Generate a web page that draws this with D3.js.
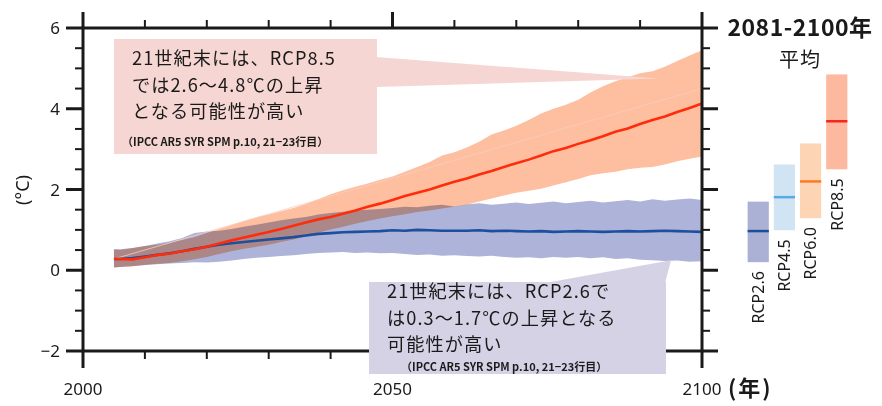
<!DOCTYPE html>
<html>
<head>
<meta charset="utf-8">
<script src="https://cdn.jsdelivr.net/npm/d3@7/dist/d3.min.js"></script>
<style>
  html, body { margin: 0; padding: 0; background: #fff; }
  svg { display: block; }
</style>
</head>
<body>
<svg id="chart" width="882" height="406"></svg>
<script>
// Projected global mean surface temperature change (°C), 2005-2100
const years = [2005, ...d3.range(2006, 2101, 2)];

// RCP8.5 ensemble mean and likely range
const rcp85Mean = [0.28, 0.28, 0.27, 0.32, 0.38, 0.41, 0.47, 0.52, 0.58, 0.66,
  0.74, 0.81, 0.88, 0.95, 1.02, 1.10, 1.18, 1.26, 1.32, 1.40,
  1.48, 1.57, 1.65, 1.74, 1.84, 1.92, 2.00, 2.10, 2.19, 2.27,
  2.37, 2.46, 2.56, 2.65, 2.74, 2.84, 2.95, 3.03, 3.13, 3.22,
  3.32, 3.43, 3.51, 3.62, 3.72, 3.81, 3.92, 4.02, 4.13];
const rcp85High = [0.52, 0.50, 0.55, 0.60, 0.63, 0.68, 0.75, 0.82, 0.92, 1.02,
  1.12, 1.22, 1.31, 1.38, 1.46, 1.54, 1.64, 1.76, 1.88, 1.98,
  2.07, 2.15, 2.24, 2.32, 2.44, 2.56, 2.68, 2.84, 2.92, 3.04,
  3.18, 3.36, 3.46, 3.58, 3.72, 3.88, 4.00, 4.10, 4.22, 4.40,
  4.56, 4.68, 4.78, 4.88, 4.93, 5.04, 5.18, 5.32, 5.45];
const rcp85Low = [0.07, 0.08, 0.10, 0.13, 0.16, 0.18, 0.22, 0.27, 0.33, 0.40,
  0.47, 0.53, 0.58, 0.63, 0.70, 0.76, 0.84, 0.93, 1.01, 1.08,
  1.15, 1.22, 1.28, 1.34, 1.39, 1.44, 1.48, 1.53, 1.57, 1.62,
  1.70, 1.78, 1.85, 1.92, 1.97, 2.02, 2.10, 2.18, 2.26, 2.35,
  2.40, 2.44, 2.50, 2.54, 2.56, 2.62, 2.70, 2.76, 2.82];

// RCP2.6 ensemble mean and likely range
const rcp26Mean = [0.28, 0.28, 0.30, 0.34, 0.38, 0.42, 0.47, 0.53, 0.58, 0.63,
  0.67, 0.70, 0.73, 0.76, 0.79, 0.82, 0.86, 0.90, 0.92, 0.94,
  0.95, 0.96, 0.97, 0.99, 0.98, 1.00, 0.99, 0.98, 0.98, 0.98,
  0.99, 0.97, 0.98, 0.97, 0.96, 0.97, 0.95, 0.96, 0.97, 0.96,
  0.95, 0.96, 0.97, 0.96, 0.97, 0.98, 0.97, 0.96, 0.95];
const rcp26High = [0.52, 0.52, 0.55, 0.60, 0.66, 0.72, 0.80, 0.92, 0.96, 0.98,
  1.02, 1.08, 1.13, 1.18, 1.24, 1.28, 1.32, 1.38, 1.42, 1.45,
  1.48, 1.50, 1.52, 1.54, 1.57, 1.56, 1.60, 1.62, 1.58, 1.63,
  1.66, 1.62, 1.65, 1.68, 1.64, 1.67, 1.70, 1.66, 1.69, 1.72,
  1.68, 1.71, 1.74, 1.70, 1.76, 1.72, 1.75, 1.78, 1.74];
const rcp26Low = [0.07, 0.08, 0.10, 0.13, 0.15, 0.17, 0.18, 0.20, 0.19, 0.21,
  0.24, 0.28, 0.31, 0.33, 0.35, 0.37, 0.40, 0.43, 0.44, 0.45,
  0.43, 0.44, 0.42, 0.43, 0.40, 0.38, 0.39, 0.36, 0.37, 0.35,
  0.34, 0.36, 0.33, 0.31, 0.32, 0.30, 0.33, 0.31, 0.33, 0.30,
  0.32, 0.28, 0.30, 0.26, 0.25, 0.23, 0.24, 0.21, 0.22];

// Faint reference trend through the RCP8.5 range
const guide85 = [[2005, 0.28], [2100, 4.5]];

// 2081-2100 averages per scenario
const scenarios = ["RCP2.6", "RCP4.5", "RCP6.0", "RCP8.5"];
const avgMean = [0.97, 1.81, 2.20, 3.69];
const avgLow  = [0.20, 0.99, 1.29, 2.50];
const avgHigh = [1.70, 2.62, 3.14, 4.85];
const avgFill = ["#abb1d5", "#d0e4f4", "#fed5b4", "#fdb99f"];
const avgLine = ["#1b4f9c", "#55abde", "#fb7b25", "#f7261b"];

// Axis ticks
const yMajor = [-2, 0, 2, 4, 6];
const yMinor = d3.range(-2, 6.01, 0.5).filter(v => v % 2 !== 0);
const xMajor = [2000, 2050, 2100];
const xMinor = d3.range(2010, 2100, 10).filter(v => v !== 2050);

// Callout texts
const note85 = ["21世紀末には、RCP8.5", "では2.6～4.8℃の上昇", "となる可能性が高い"];
const note26 = ["21世紀末には、RCP2.6で", "は0.3～1.7℃の上昇となる", "可能性が高い"];
const source = "（IPCC AR5 SYR SPM p.10, 21−23行目）";
const tip85 = [2093, 4.75];
const tip26 = [2095, 0.25];

const svg = d3.select("#chart");
const JP = "'Noto Sans CJK JP', 'Noto Sans', sans-serif";
const LAT = "'Noto Sans', 'Noto Sans CJK JP', sans-serif";
const ink = "#1a1a1a";

const x = d3.scaleLinear().domain([2000, 2100]).range([83, 702]);
const y = d3.scaleLinear().domain([-2, 6]).range([351, 28]);

const rows = years.map((yr, i) => ({
  yr, m85: rcp85Mean[i], h85: rcp85High[i], l85: rcp85Low[i],
  m26: rcp26Mean[i], h26: rcp26High[i], l26: rcp26Low[i]
}));

// Ranges
const plot = svg.append("g");
plot.append("path").datum(rows)
  .attr("fill", "#fdbf9f")
  .attr("d", d3.area().x(d => x(d.yr)).y0(d => y(d.l85)).y1(d => y(d.h85)));
plot.append("path").datum(rows)
  .attr("fill", "#aeb4d9")
  .style("mix-blend-mode", "multiply")
  .attr("d", d3.area().x(d => x(d.yr)).y0(d => y(d.l26)).y1(d => y(d.h26)));
plot.append("path").datum(guide85)
  .attr("fill", "none").attr("stroke", "#f9cdbf").attr("stroke-opacity", 0.8)
  .attr("stroke-width", 1)
  .attr("d", d3.line().x(d => x(d[0])).y(d => y(d[1])));

// Means
plot.append("path").datum(rows)
  .attr("fill", "none").attr("stroke", "#1d4f9e").attr("stroke-width", 2.6)
  .attr("stroke-linejoin", "round")
  .attr("d", d3.line().x(d => x(d.yr)).y(d => y(d.m26)));
plot.append("path").datum(rows)
  .attr("fill", "none").attr("stroke", "#ff2c0c").attr("stroke-width", 2.6)
  .attr("stroke-linejoin", "round")
  .attr("d", d3.line().x(d => x(d.yr)).y(d => y(d.m85)));

// Frame and ticks
const frame = svg.append("g").attr("stroke", ink).attr("stroke-linecap", "butt");
frame.append("rect")
  .attr("x", x(2000)).attr("y", y(6))
  .attr("width", x(2100) - x(2000)).attr("height", y(-2) - y(6))
  .attr("fill", "none").attr("stroke-width", 3);
yMajor.forEach(v => {
  frame.append("line").attr("x1", x(2000) - 17).attr("x2", x(2000)).attr("y1", y(v)).attr("y2", y(v)).attr("stroke-width", 3);
  frame.append("line").attr("x1", x(2100)).attr("x2", x(2100) + 16).attr("y1", y(v)).attr("y2", y(v)).attr("stroke-width", 3);
});
yMinor.forEach(v => {
  frame.append("line").attr("x1", x(2000) - 8).attr("x2", x(2000)).attr("y1", y(v)).attr("y2", y(v)).attr("stroke-width", 2);
  frame.append("line").attr("x1", x(2100)).attr("x2", x(2100) + 8).attr("y1", y(v)).attr("y2", y(v)).attr("stroke-width", 2);
});
xMajor.forEach(v => {
  frame.append("line").attr("x1", x(v)).attr("x2", x(v)).attr("y1", y(-2)).attr("y2", y(-2) + 17).attr("stroke-width", 3);
  frame.append("line").attr("x1", x(v)).attr("x2", x(v)).attr("y1", y(6) - 16).attr("y2", y(6)).attr("stroke-width", 3);
});
xMinor.forEach(v => {
  frame.append("line").attr("x1", x(v)).attr("x2", x(v)).attr("y1", y(-2)).attr("y2", y(-2) + 8).attr("stroke-width", 2);
  frame.append("line").attr("x1", x(v)).attr("x2", x(v)).attr("y1", y(6) - 8).attr("y2", y(6)).attr("stroke-width", 2);
});

// Tick labels
svg.append("g").selectAll("text").data(yMajor).join("text")
  .attr("x", 60).attr("y", d => y(d)).attr("dy", "0.36em")
  .attr("text-anchor", "end")
  .attr("font-family", LAT).attr("font-size", 17).attr("fill", ink)
  .text(d => d < 0 ? "−" + Math.abs(d) : d);
svg.append("g").selectAll("text").data(xMajor).join("text")
  .attr("x", d => x(d)).attr("y", 395)
  .attr("text-anchor", "middle")
  .attr("font-family", LAT).attr("font-size", 17).attr("fill", ink)
  .text(d => d);
svg.append("text")
  .attr("x", 728).attr("y", 396)
  .attr("font-family", JP).attr("font-size", 22).attr("font-weight", "bold")
  .attr("letter-spacing", 2).attr("fill", ink)
  .text("(年)");
svg.append("text")
  .attr("transform", "translate(29,190) rotate(-90)")
  .attr("text-anchor", "middle")
  .attr("font-family", LAT).attr("font-size", 18).attr("fill", ink)
  .text("(°C)");

// Callouts
function callout(box, base, tip, fill, lines, lineY, textX, srcX, srcY) {
  const g = svg.append("g");
  g.append("path")
    .attr("d", `M${base[0][0]},${base[0][1]}L${x(tip[0])},${y(tip[1])}L${base[1][0]},${base[1][1]}Z`)
    .attr("fill", fill);
  g.append("rect").attr("x", box[0]).attr("y", box[1])
    .attr("width", box[2] - box[0]).attr("height", box[3] - box[1]).attr("fill", fill);
  g.append("text")
    .attr("font-family", JP).attr("font-size", 18.2).attr("letter-spacing", 1.05).attr("fill", ink)
    .selectAll("tspan").data(lines).join("tspan")
    .attr("x", textX).attr("y", (d, i) => lineY[i])
    .text(d => d);
  g.append("text").attr("x", srcX).attr("y", srcY)
    .attr("font-family", JP).attr("font-size", 11).attr("font-weight", "bold").attr("fill", ink)
    .text(source);
}
callout([114, 39, 377, 154], [[376, 57], [376, 87]], tip85, "#f6d6d2",
  note85, [65, 91.5, 118], 132, 122, 146);
callout([369, 282, 666, 374], [[545, 283], [665, 283]], tip26, "#d6d2e6",
  note26, [298, 324.5, 351], 387, 401, 371);

// 2081-2100 averages
svg.append("text").attr("x", 800).attr("y", 36).attr("text-anchor", "middle")
  .attr("font-family", JP).attr("font-size", 23).attr("font-weight", "bold")
  .attr("letter-spacing", 0.5).attr("fill", ink)
  .text("2081-2100年");
svg.append("text").attr("x", 800).attr("y", 67).attr("text-anchor", "middle")
  .attr("font-family", JP).attr("font-size", 20).attr("letter-spacing", 1).attr("fill", ink)
  .text("平均");

const xs = d3.scaleBand().domain(scenarios).range([745, 850]).paddingInner(0.19).paddingOuter(0.1);
const side = svg.append("g");
scenarios.forEach((s, i) => {
  side.append("rect")
    .attr("x", xs(s)).attr("width", xs.bandwidth())
    .attr("y", y(avgHigh[i])).attr("height", y(avgLow[i]) - y(avgHigh[i]))
    .attr("fill", avgFill[i]);
  side.append("line")
    .attr("x1", xs(s)).attr("x2", xs(s) + xs.bandwidth())
    .attr("y1", y(avgMean[i])).attr("y2", y(avgMean[i]))
    .attr("stroke", avgLine[i]).attr("stroke-width", 2.5);
  const cx = xs(s) + xs.bandwidth() / 2;
  side.append("text")
    .attr("transform", `translate(${cx},${y(avgLow[i]) + 9}) rotate(-90)`)
    .attr("text-anchor", "end").attr("dy", "0.36em")
    .attr("font-family", LAT).attr("font-size", 16).attr("fill", ink)
    .text(s);
});
</script>
</body>
</html>
